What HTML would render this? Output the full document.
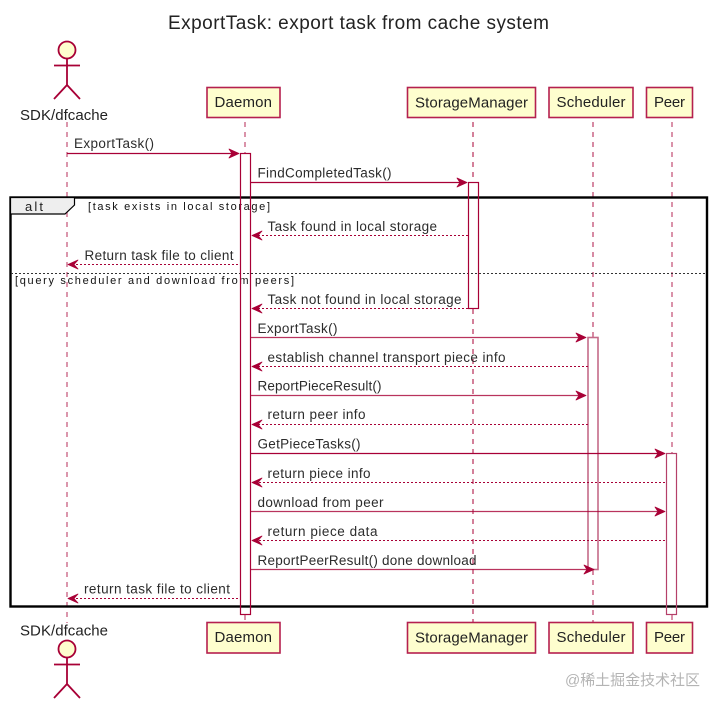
<!DOCTYPE html>
<html><head><meta charset="utf-8"><style>
html,body{margin:0;padding:0;background:#fff}
svg{display:block;filter:blur(.3px)}
text{font-family:"Liberation Sans","Noto Sans CJK SC",sans-serif;fill:#222}
.m{font-size:13.5px;fill:#2c2c2c}
.p{font-size:15px;fill:#222}
.g{font-size:11px;fill:#111}
.box{fill:#FEFECE;stroke:#B5204F;stroke-width:1.6}
.act{fill:none;stroke:#A80036;stroke-width:1.2}
.ll{stroke:#A80036;stroke-width:1;stroke-dasharray:5 5;fill:none}
.s{stroke:#A80036;stroke-width:1.2;fill:none}
.d{stroke:#A80036;stroke-width:1;stroke-dasharray:2 2;fill:none}
.h{fill:#A80036;stroke:#A80036;stroke-width:.8;stroke-linejoin:round}
</style></head><body>
<svg width="720" height="707" viewBox="0 0 720 707" xmlns="http://www.w3.org/2000/svg">
<rect width="720" height="707" fill="#fff"/>
<text x="168" y="29" font-size="19" textLength="381" lengthAdjust="spacing">ExportTask: export task from cache system</text>

<!-- lifelines -->
<line class="ll" x1="67" y1="122" x2="67" y2="623" style="stroke-width:1.5" opacity=".55"/>
<path class="ll" d="M245 122V153M245 615V622" style="stroke-width:1.2" opacity=".7"/>
<path class="ll" d="M473 122V182M473 309V622"/>
<path class="ll" d="M593 122V337M593 570V622" style="stroke-width:1.4" opacity=".65"/>
<path class="ll" d="M672 122V453M672 615V622"  opacity=".85"/>

<!-- alt frame -->
<rect x="10.5" y="197.5" width="696.5" height="409" fill="none" stroke="#000" stroke-width="2.4"/>
<path d="M10.5 197.5H74.5V205L65 214H10.5Z" fill="#EEEEEE" stroke="#000" stroke-width="1.2"/>
<text x="25" y="211" font-size="13" fill="#111" textLength="18" lengthAdjust="spacing">alt</text>
<text class="g" x="88" y="210" textLength="182" lengthAdjust="spacing">[task exists in local storage]</text>
<line x1="11" y1="273.5" x2="706" y2="273.5" stroke="#333" stroke-width="1.1" stroke-dasharray="2 2"/>
<text class="g" x="15" y="284" textLength="279" lengthAdjust="spacing">[query scheduler and download from peers]</text>

<!-- activations -->
<rect class="act" x="240.5" y="153.5" width="10" height="461"/>
<rect class="act" x="468.5" y="182.5" width="10" height="126"/>
<rect class="act" x="588" y="337.5" width="10" height="232" style="stroke:#C46A88;stroke-width:1.6"/>
<rect class="act" x="666.5" y="453.5" width="10" height="161" style="stroke:#B5406A"/>

<!-- sync messages -->
<line class="s" x1="67" y1="153.5" x2="236" y2="153.5"/><path class="h" d="M239 153.5L229 149L232 153.5L229 158Z"/>
<line class="s" x1="250.5" y1="182.5" x2="465" y2="182.5"/><path class="h" d="M467 182.5L457 178L460 182.5L457 187Z"/>
<line class="s" x1="250.5" y1="337.5" x2="584" y2="337.5" opacity=".8"/><path class="h" d="M586 337.5L576 333L579 337.5L576 342Z"/>
<line class="s" x1="250.5" y1="395.5" x2="584" y2="395.5" opacity=".8"/><path class="h" d="M586 395.5L576 391L579 395.5L576 400Z"/>
<line class="s" x1="250.5" y1="453.5" x2="663" y2="453.5"/><path class="h" d="M665 453.5L655 449L658 453.5L655 458Z"/>
<line class="s" x1="250.5" y1="511.5" x2="663" y2="511.5" opacity=".8"/><path class="h" d="M665 511.5L655 507L658 511.5L655 516Z"/>
<line class="s" x1="250.5" y1="569.5" x2="592" y2="569.5" opacity=".8"/><path class="h" d="M594 569.5L584 565L587 569.5L584 574Z"/>

<!-- return messages -->
<g>
<line class="d" x1="468" y1="235.5" x2="256" y2="235.5"/><path class="h" d="M252 235.5L262 231L258 235.5L262 240Z"/>
<line class="d" x1="238" y1="264.5" x2="72" y2="264.5"/><path class="h" d="M68 264.5L78 260L74 264.5L78 269Z"/>
<line class="d" x1="468" y1="308.5" x2="256" y2="308.5"/><path class="h" d="M252 308.5L262 304L258 308.5L262 313Z"/>
<line class="d" x1="588" y1="366.5" x2="256" y2="366.5"/><path class="h" d="M252 366.5L262 362L258 366.5L262 371Z"/>
<line class="d" x1="588" y1="424.5" x2="256" y2="424.5"/><path class="h" d="M252 424.5L262 420L258 424.5L262 429Z"/>
<line class="d" x1="665" y1="482.5" x2="256" y2="482.5"/><path class="h" d="M252 482.5L262 478L258 482.5L262 487Z"/>
<line class="d" x1="665" y1="540.5" x2="256" y2="540.5"/><path class="h" d="M252 540.5L262 536L258 540.5L262 545Z"/>
<line class="d" x1="238" y1="598.5" x2="72" y2="598.5"/><path class="h" d="M68 598.5L78 594L74 598.5L78 603Z"/>
</g>

<!-- message labels -->
<text class="m" x="74" y="148" textLength="80" lengthAdjust="spacing">ExportTask()</text>
<text class="m" x="257.5" y="177.5" textLength="134" lengthAdjust="spacing">FindCompletedTask()</text>
<text class="m" x="267.5" y="231" textLength="169.5" lengthAdjust="spacing">Task found in local storage</text>
<text class="m" x="84.5" y="260" textLength="149" lengthAdjust="spacing">Return task file to client</text>
<text class="m" x="267.5" y="304" textLength="194" lengthAdjust="spacing">Task not found in local storage</text>
<text class="m" x="257.5" y="333" textLength="80" lengthAdjust="spacing">ExportTask()</text>
<text class="m" x="267.5" y="362" textLength="238" lengthAdjust="spacing">establish channel transport piece info</text>
<text class="m" x="257.5" y="390.5" textLength="124" lengthAdjust="spacing">ReportPieceResult()</text>
<text class="m" x="267.5" y="419" textLength="98" lengthAdjust="spacing">return peer info</text>
<text class="m" x="257.5" y="448.5" textLength="103" lengthAdjust="spacing">GetPieceTasks()</text>
<text class="m" x="267.5" y="478" textLength="103" lengthAdjust="spacing">return piece info</text>
<text class="m" x="257.5" y="507" textLength="126" lengthAdjust="spacing">download from peer</text>
<text class="m" x="267.5" y="536" textLength="110" lengthAdjust="spacing">return piece data</text>
<text class="m" x="257.5" y="565" textLength="219" lengthAdjust="spacing">ReportPeerResult() done download</text>
<text class="m" x="84" y="593.5" textLength="146" lengthAdjust="spacing">return task file to client</text>

<!-- top participants -->
<g>
<circle cx="67" cy="50" r="8.5" fill="#FEFECE" stroke="#A80036" stroke-width="1.8"/>
<path d="M67 58.5V85M54 65.5H80M54 99L67 85L80 99" fill="none" stroke="#A80036" stroke-width="1.8"/>
<text class="p" x="20" y="120" textLength="88" lengthAdjust="spacing">SDK/dfcache</text>
<rect class="box" x="207" y="87.5" width="73" height="30"/>
<text class="p" x="214.5" y="107" textLength="57.5" lengthAdjust="spacing">Daemon</text>
<rect class="box" x="407.5" y="87.5" width="128" height="30"/>
<text class="p" x="415" y="107.5" textLength="113" lengthAdjust="spacing">StorageManager</text>
<rect class="box" x="549" y="87.5" width="84" height="30"/>
<text class="p" x="556.5" y="107" textLength="69" lengthAdjust="spacing">Scheduler</text>
<rect class="box" x="646.5" y="87.5" width="46" height="30"/>
<text class="p" x="654" y="107" textLength="31" lengthAdjust="spacing">Peer</text>
</g>

<!-- bottom participants -->
<g>
<text class="p" x="20" y="635.5" textLength="88" lengthAdjust="spacing">SDK/dfcache</text>
<circle cx="67" cy="649" r="8.5" fill="#FEFECE" stroke="#A80036" stroke-width="1.8"/>
<path d="M67 657.5V684M54 664.5H80M54 698L67 684L80 698" fill="none" stroke="#A80036" stroke-width="1.8"/>
<rect class="box" x="207" y="622.5" width="73" height="30.5"/>
<text class="p" x="214.5" y="642" textLength="57.5" lengthAdjust="spacing">Daemon</text>
<rect class="box" x="407.5" y="622.5" width="128" height="30.5"/>
<text class="p" x="415" y="642.5" textLength="113" lengthAdjust="spacing">StorageManager</text>
<rect class="box" x="549" y="622.5" width="84" height="30.5"/>
<text class="p" x="556.5" y="642" textLength="69" lengthAdjust="spacing">Scheduler</text>
<rect class="box" x="646.5" y="622.5" width="46" height="30.5"/>
<text class="p" x="654" y="642" textLength="31" lengthAdjust="spacing">Peer</text>
</g>

<text x="565" y="685" font-size="15" style="fill:#b4b4b4" textLength="135" lengthAdjust="spacing">@稀土掘金技术社区</text>
</svg>
</body></html>
